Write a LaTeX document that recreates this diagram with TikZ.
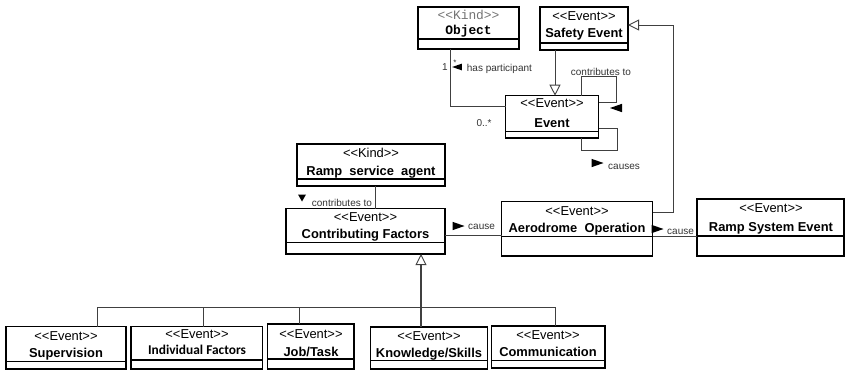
\documentclass[tikz,border=0pt]{standalone}
\usepackage{fontspec}
\setmainfont{Liberation Sans}
\newfontfamily\umlmono{Liberation Mono}
\newfontfamily\umlcal{Carlito}
\usetikzlibrary{arrows.meta}

% stereotype brackets, kept apart so they are not turned into guillemets
\newcommand\umlst[1]{<\kern0pt<#1>\kern0pt>}

% class box: name, x1, y1, x2, y2, y of the compartment line
\newcommand\umlclass[6]{%
  \node[classbox, anchor=north west, minimum width={(#4)-(#2)}, minimum height={(#5)-(#3)}] (#1) at (#2,#3) {};
  \draw[sepline] (#2,#6) -- (#4,#6);
}

\tikzset{
  classbox/.style={draw=black, line width=1.4pt, inner sep=0pt, outer sep=0pt},
  sepline/.style={draw=black, line width=1.4pt},
  stereo/.style={inner sep=0pt, text height=9.2pt, text depth=0pt, font=\fontsize{12.9}{14}\selectfont},
  cname/.style={inner sep=0pt, text height=9.2pt, text depth=0pt, font=\fontsize{12.9}{14}\selectfont\bfseries},
  conn/.style={draw=black!75, line width=0.9pt},
  lbl/.style={inner sep=0pt, text height=7.2pt, text depth=0pt, font=\fontsize{10}{12}\selectfont, text=black!80},
  gen/.style={conn, -{Triangle[open, length=11pt, width=11pt, line width=0.9pt, fill=white]}},
  trir/.pic={\fill[black] (6,0) -- (-6,-4.2) -- (-6,4.2) -- cycle;},
  trid/.pic={\fill[black] (0,3.5) -- (-4,-3.5) -- (4,-3.5) -- cycle;},
}

\begin{document}
\begin{tikzpicture}[x=1pt, y=-1pt]
\useasboundingbox (0,0) rectangle (845,370);

% ---- classes ----
\umlclass{obj}{418}{7}{519}{49}{39}
\node[stereo, text=black!55, font=\fontsize{12.9}{14}\selectfont\umlmono] (obj-st) at (468.5,15) {\umlst{Kind}};
\node[cname, font=\fontsize{12.9}{14}\selectfont\umlmono\bfseries] (obj-nm) at (468.5,30) {Object};

\umlclass{saf}{540}{7}{628}{50}{43}
\node[stereo] (saf-st) at (584,16) {\umlst{Event}};
\node[cname] (saf-nm) at (584,33) {Safety Event};

\umlclass{ev}{505.7}{95.7}{598.5}{138}{131.7}
\node[stereo] (ev-st) at (552,103) {\umlst{Event}};
\node[cname] (ev-nm) at (552,122.7) {Event};

\umlclass{rsa}{297}{144}{445}{186}{179}
\node[stereo] (rsa-st) at (371,153) {\umlst{Kind}};
\node[cname] (rsa-nm) at (371,170.7) {Ramp\ \ service\ \ agent};

\umlclass{cf}{286}{208.5}{445}{254}{242.7}
\node[stereo] (cf-st) at (365.5,216.7) {\umlst{Event}};
\node[cname] (cf-nm) at (365.5,234.3) {Contributing Factors};

\umlclass{aero}{501.7}{201.7}{652.7}{256}{236.7}
\node[stereo] (aero-st) at (577,211) {\umlst{Event}};
\node[cname] (aero-nm) at (577,228) {Aerodrome\ \ Operation};

\umlclass{rse}{697}{199}{844}{256}{236}
\node[stereo] (rse-st) at (771,208.3) {\umlst{Event}};
\node[cname] (rse-nm) at (771,226.7) {Ramp System Event};

\umlclass{supv}{6}{326.7}{126}{369}{361.7}
\node[stereo] (supv-st) at (66,336) {\umlst{Event}};
\node[cname] (supv-nm) at (66,353.3) {Supervision};

\umlclass{ind}{131}{326.7}{262.7}{369}{360}
\node[stereo] (ind-st) at (197,334) {\umlst{Event}};
\node[cname, font=\fontsize{13.4}{15}\selectfont\umlcal\bfseries] (ind-nm) at (197,350) {Individual Factors};

\umlclass{job}{267.7}{324}{354}{369}{359}
\node[stereo] (job-st) at (311,334.3) {\umlst{Event}};
\node[cname] (job-nm) at (311,351.7) {Job/Task};

\umlclass{kno}{370.7}{327}{487.7}{369}{360.7}
\node[stereo] (kno-st) at (429,336) {\umlst{Event}};
\node[cname] (kno-nm) at (429,353.3) {Knowledge/Skills};

\umlclass{com}{491.7}{326}{605}{368}{360.7}
\node[stereo] (com-st) at (548,335) {\umlst{Event}};
\node[cname] (com-nm) at (548,352.3) {Communication};

% ---- helper coordinates for bends ----
\coordinate (ox) at (450,0);
\coordinate (hpy) at (0,106);
\coordinate (sx) at (555,0);
\coordinate (ay) at (0,212);
\coordinate (aoc) at (673,25);
\coordinate (c1) at (581.7,76);
\coordinate (c2) at (616.7,102.7);
\coordinate (d1) at (617,128);
\coordinate (d2) at (581.7,150);
\coordinate (rx) at (375,0);
\coordinate (cy) at (0,235);
\coordinate (cy2) at (0,236.5);
\coordinate (gx) at (421,307);
\coordinate (s1) at (97.7,307);
\coordinate (s2) at (203.7,307);
\coordinate (s3) at (299,307);
\coordinate (s5) at (555,307);

% ---- associations ----
\draw[conn] (obj.south -| ox) |- (ev.west |- hpy);
\draw[conn] (ev.north -| c1) -- (c1) -| (c2) -- (ev.east |- c2);
\draw[conn] (ev.east |- d1) -- (d1) |- (d2) -- (ev.south -| d2);
\draw[conn] (rsa.south -| rx) -- (cf.north -| rx);
\draw[conn] (cf.east |- cy) -- (aero.west |- cy);
\draw[conn] (aero.east |- cy2) -- (rse.west |- cy2);

% ---- generalizations ----
\draw[gen] (saf.south -| sx) -- (ev.north -| sx);
\draw[gen] (aero.east |- ay) -| (aoc) -- (saf.east |- aoc);
\draw[conn] (s1) -- (s5);
\draw[conn] (s1) -- (supv.north -| s1);
\draw[conn] (s2) -- (ind.north -| s2);
\draw[conn] (s3) -- (job.north -| s3);
\draw[conn] (s5) -- (com.north -| s5);
\draw[gen, line width=1.5pt] (kno.north -| gx) -- (cf.south -| gx);

% ---- association labels ----
\node[lbl] (m-one) at (445,67) {1};
\node[lbl, font=\fontsize{8}{9}\selectfont] (m-star) at (455,61.5) {*};
\pic[rotate=180, scale=0.8] (t-hp) at (457,67) {trir};
\node[lbl, anchor=west] (l-hp) at (466.7,68) {has participant};
\node[lbl] (m-many) at (484,122.7) {0..*};

\node[lbl, anchor=west] (l-ct1) at (570.7,71.7) {contributes to};
\pic[rotate=180] (t-ct1) at (616,108) {trir};

\pic (t-cs) at (597.5,163) {trir};
\node[lbl, anchor=west] (l-cs) at (608,165.7) {causes};

\pic (t-ct2) at (302,198) {trid};
\node[lbl, anchor=west] (l-ct2) at (311.7,202.7) {contributes to};

\pic (t-c1) at (458.5,226) {trir};
\node[lbl, anchor=west] (l-c1) at (468,226) {cause};

\pic (t-c2) at (657.5,229) {trir};
\node[lbl, anchor=west] (l-c2) at (667,231) {cause};
\end{tikzpicture}
\end{document}
